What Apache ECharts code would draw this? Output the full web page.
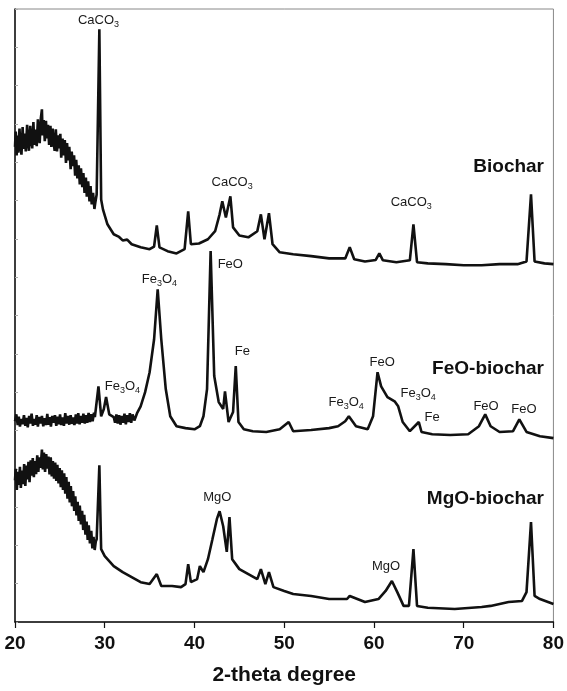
<!DOCTYPE html>
<html>
<head>
<meta charset="utf-8">
<script src="https://cdn.jsdelivr.net/npm/echarts@6/dist/echarts.min.js"></script>
<style>
  html, body { margin: 0; padding: 0; background: #fff; }
  #chart { width: 567px; height: 691px; }
</style>
</head>
<body>
<div id="chart"></div>
<script>
// 2-theta (deg) vs stacked intensity (a.u.)
// the noisy humps are traced as the top/bottom of the band
var biochar = [
  [20.0,12.40],[20.08,12.80],[20.18,12.18],[20.3,12.70],[20.36,12.25],[20.5,12.88],[20.6,12.42],
  [20.72,12.20],[20.85,12.92],[20.95,12.35],[21.1,12.75],[21.2,12.28],[21.35,12.98],[21.45,12.52],
  [21.55,12.30],[21.7,12.95],[21.8,12.60],[21.92,12.36],[22.05,13.05],[22.15,12.45],[22.3,12.85],
  [22.42,12.42],[22.55,13.12],[22.65,12.70],[22.75,12.50],[22.88,13.15],[23.0,13.38],[23.08,12.70],
  [23.2,13.10],[23.32,12.55],[23.45,13.08],[23.55,12.62],[23.68,12.98],[23.8,12.45],[23.95,12.95],
  [24.05,12.40],[24.2,12.88],[24.3,12.52],[24.42,12.30],[24.55,12.86],[24.68,12.28],[24.8,12.70],
  [24.9,12.36],[25.05,12.74],[25.15,12.12],[25.3,12.62],[25.42,12.18],[25.55,12.58],[25.68,11.98],
  [25.8,12.50],[25.92,12.05],[26.05,12.40],[26.2,11.82],[26.32,12.28],[26.45,11.90],[26.58,12.18],
  [26.7,11.65],[26.82,12.06],[26.95,11.58],[27.1,11.92],[27.22,11.42],[27.35,11.84],[27.5,11.35],
  [27.62,11.72],[27.75,11.20],[27.9,11.60],[28.0,11.10],[28.15,11.50],[28.3,10.98],[28.42,11.38],
  [28.55,10.90],[28.7,11.20],[28.85,10.78],[28.95,10.95],[29.1,11.16],[29.4,15.47],[29.6,11.03],
  [29.8,10.77],[30.3,10.38],[31.0,10.12],[31.6,10.05],[32.0,9.96],[32.5,9.98],[33.0,9.86],
  [34.0,9.78],[35.0,9.73],[35.5,9.80],[35.8,10.35],[36.1,9.78],[37.0,9.68],[38.0,9.62],
  [38.9,9.73],[39.3,10.72],[39.6,9.86],[40.5,9.88],[41.5,9.99],[42.3,10.20],[42.8,10.64],
  [43.1,10.98],[43.5,10.56],[44.0,11.11],[44.3,10.30],[45.0,10.09],[46.0,10.04],[47.0,10.20],
  [47.4,10.64],[47.8,9.99],[48.3,10.67],[48.7,9.86],[49.5,9.65],[51.0,9.60],[53.0,9.55],
  [55.0,9.49],[56.8,9.49],[57.3,9.78],[57.8,9.47],[59.0,9.41],[60.2,9.45],[60.6,9.62],
  [61.0,9.44],[62.5,9.39],[64.0,9.44],[64.4,10.38],[64.8,9.39],[66.0,9.36],[68.0,9.34],
  [70.0,9.31],[72.0,9.31],[74.0,9.34],[76.0,9.34],[77.0,9.41],[77.5,11.16],[77.9,9.41],
  [79.0,9.36],[80.0,9.34]
];
var feoBiochar = [
  [20.0,5.24],[20.15,5.42],[20.3,5.14],[20.42,5.36],[20.55,5.10],[20.7,5.30],[20.85,5.16],
  [21.0,5.40],[21.15,5.12],[21.3,5.33],[21.42,5.08],[21.58,5.38],[21.7,5.18],[21.85,5.44],
  [22.0,5.12],[22.12,5.30],[22.28,5.15],[22.42,5.40],[22.55,5.10],[22.7,5.35],[22.85,5.18],
  [23.0,5.38],[23.15,5.11],[23.3,5.32],[23.45,5.14],[23.6,5.43],[23.72,5.15],[23.88,5.35],
  [24.0,5.10],[24.15,5.38],[24.3,5.20],[24.45,5.40],[24.6,5.12],[24.75,5.36],[24.88,5.16],
  [25.02,5.42],[25.15,5.14],[25.3,5.34],[25.45,5.12],[25.6,5.45],[25.75,5.18],[25.9,5.38],
  [26.05,5.15],[26.2,5.40],[26.35,5.17],[26.5,5.34],[26.62,5.14],[26.78,5.42],[26.92,5.18],
  [27.05,5.45],[27.2,5.16],[27.35,5.38],[27.5,5.20],[27.62,5.44],[27.78,5.18],[27.92,5.40],
  [28.05,5.20],[28.2,5.46],[28.35,5.22],[28.5,5.42],[28.65,5.24],[28.8,5.46],[28.9,5.35],
  [29.3,6.15],[29.6,5.37],[29.9,5.56],[30.15,5.87],[30.5,5.42],[31.0,5.35],[31.15,5.20],
  [31.3,5.42],[31.45,5.18],[31.6,5.40],[31.75,5.15],[31.9,5.38],[32.05,5.20],[32.2,5.44],
  [32.35,5.16],[32.5,5.40],[32.65,5.22],[32.8,5.45],[32.95,5.20],[33.1,5.42],[33.3,5.26],
  [33.6,5.45],[34.0,5.63],[34.5,6.00],[35.0,6.52],[35.5,7.38],[35.9,8.68],[36.3,7.38],
  [36.8,6.08],[37.3,5.37],[38.0,5.11],[39.0,5.06],[40.0,5.03],[40.6,5.11],[41.0,5.37],
  [41.4,6.08],[41.8,9.68],[42.2,6.42],[42.7,5.74],[43.2,5.56],[43.4,6.02],[43.8,5.22],
  [44.3,5.48],[44.6,6.68],[44.9,5.22],[45.5,5.03],[46.5,4.98],[48.0,4.96],[49.5,5.03],
  [50.5,5.22],[51.0,4.98],[53.0,5.01],[55.0,5.06],[56.0,5.11],[56.8,5.24],[57.2,5.37],
  [58.0,5.11],[59.3,5.03],[59.9,5.37],[60.4,6.52],[60.8,6.15],[61.5,5.87],[62.3,5.76],
  [62.7,5.63],[63.2,5.22],[64.0,4.98],[65.0,5.22],[65.3,4.96],[66.5,4.90],[68.5,4.88],
  [70.5,4.90],[71.7,5.11],[72.4,5.42],[73.0,5.11],[74.0,4.96],[75.5,4.98],[76.2,5.29],
  [77.0,4.96],[78.5,4.85],[80.0,4.80]
];
var mgoBiochar = [
  [20.0,3.70],[20.08,4.00],[20.2,3.45],[20.32,3.92],[20.42,3.58],[20.55,4.05],[20.65,3.50],
  [20.78,3.95],[20.9,3.60],[21.02,4.12],[21.15,3.55],[21.28,4.08],[21.38,3.72],[21.5,4.18],
  [21.62,3.65],[21.75,4.22],[21.85,3.82],[21.98,4.28],[22.1,3.78],[22.22,4.20],[22.35,3.86],
  [22.48,4.35],[22.6,3.92],[22.72,4.30],[22.85,4.02],[23.0,4.50],[23.1,3.98],[23.22,4.42],
  [23.35,3.92],[23.48,4.38],[23.6,4.00],[23.72,4.32],[23.85,3.85],[23.98,4.30],[24.1,3.80],
  [24.22,4.20],[24.35,3.74],[24.48,4.16],[24.6,3.68],[24.72,4.10],[24.85,3.62],[24.98,4.02],
  [25.1,3.52],[25.22,3.96],[25.35,3.45],[25.48,3.88],[25.6,3.35],[25.72,3.78],[25.85,3.22],
  [25.98,3.66],[26.1,3.12],[26.22,3.55],[26.35,3.02],[26.48,3.42],[26.6,2.90],[26.72,3.28],
  [26.85,2.78],[26.98,3.14],[27.1,2.64],[27.22,3.04],[27.35,2.55],[27.48,2.90],[27.6,2.40],
  [27.72,2.80],[27.85,2.28],[27.98,2.62],[28.1,2.14],[28.22,2.52],[28.35,2.05],[28.5,2.38],
  [28.62,1.92],[28.75,2.22],[28.88,1.88],[29.0,2.10],[29.1,2.16],[29.4,4.09],[29.6,1.90],
  [30.0,1.72],[31.0,1.46],[32.0,1.30],[33.0,1.17],[34.0,1.04],[35.0,0.99],[35.8,1.25],
  [36.3,0.94],[37.5,0.94],[38.5,0.91],[39.0,0.99],[39.3,1.51],[39.6,1.04],[40.3,1.12],
  [40.6,1.46],[41.0,1.30],[41.5,1.64],[42.0,2.16],[42.5,2.69],[42.8,2.89],[43.2,2.50],
  [43.6,1.83],[43.9,2.74],[44.2,1.64],[45.0,1.38],[46.0,1.25],[47.0,1.12],[47.4,1.38],
  [47.9,0.99],[48.3,1.30],[48.8,0.91],[50.0,0.81],[51.0,0.73],[53.0,0.68],[55.0,0.60],
  [57.0,0.60],[57.3,0.68],[59.0,0.52],[60.5,0.60],[61.3,0.81],[62.0,1.07],[62.6,0.78],
  [63.3,0.42],[63.9,0.42],[64.4,1.90],[64.8,0.42],[66.0,0.37],[69.0,0.34],[72.0,0.39],
  [73.0,0.42],[75.0,0.52],[76.5,0.55],[77.0,0.78],[77.5,2.61],[77.9,0.68],[78.5,0.60],
  [80.0,0.47]
];

// phase labels: [2-theta, height, text]
var peakLabels = [
  [29.3, 15.70, '{n|CaCO}{s|3}'],
  [44.2, 11.48, '{n|CaCO}{s|3}'],
  [64.15, 10.95, '{n|CaCO}{s|3}'],
  [36.09, 8.95, '{n|Fe}{s|3}{n|O}{s|4}'],
  [43.99, 9.34, '{n|FeO}'],
  [45.33, 7.07, '{n|Fe}'],
  [31.97, 6.15, '{n|Fe}{s|3}{n|O}{s|4}'],
  [56.90, 5.74, '{n|Fe}{s|3}{n|O}{s|4}'],
  [60.91, 6.78, '{n|FeO}'],
  [64.92, 5.97, '{n|Fe}{s|3}{n|O}{s|4}'],
  [66.48, 5.35, '{n|Fe}'],
  [72.49, 5.63, '{n|FeO}'],
  [76.72, 5.56, '{n|FeO}'],
  [42.54, 3.26, '{n|MgO}'],
  [61.35, 1.46, '{n|MgO}']
];
var sampleLabels = [
  [78.95, 11.87, 'Biochar'],
  [78.95, 6.60, 'FeO-biochar'],
  [78.95, 3.21, 'MgO-biochar']
];

var font = 'Liberation Sans, Arial, Helvetica, sans-serif';
var chart = echarts.init(document.getElementById('chart'));

function trace(name, data) {
  return {
    name: name,
    type: 'line',
    data: data,
    symbol: 'none',
    lineStyle: { color: '#111', width: 2.6 },
    z: 2,
    animation: false
  };
}

chart.setOption({
  animation: false,
  grid: {
    left: 15, right: 12, top: 9, bottom: 68,
    show: true, borderColor: '#888', borderWidth: 1
  },
  xAxis: {
    type: 'value', min: 20, max: 80, interval: 10,
    name: '2-theta degree', nameLocation: 'middle', nameGap: 43,
    nameTextStyle: { fontFamily: font, fontWeight: 'bold', fontSize: 21, color: '#111' },
    axisLine: { lineStyle: { color: '#111', width: 1.5 } },
    axisTick: { inside: false, length: 6, lineStyle: { color: '#111', width: 1.2 } },
    axisLabel: { fontFamily: font, fontWeight: 'bold', fontSize: 19, color: '#111', margin: 12 },
    splitLine: { show: false }
  },
  yAxis: {
    type: 'value', min: 0, max: 16, interval: 1,
    axisLine: { show: true, lineStyle: { color: '#111', width: 1.5 } },
    axisTick: { show: true, inside: true, length: 3, lineStyle: { color: '#aaa' } },
    axisLabel: { show: false },
    splitLine: { show: false }
  },
  series: [
    trace('Biochar', biochar),
    trace('FeO-biochar', feoBiochar),
    trace('MgO-biochar', mgoBiochar),
    {
      type: 'scatter', symbolSize: 0, z: 5, animation: false, silent: true,
      itemStyle: { color: '#111', opacity: 1 },
      data: peakLabels.map(function (p) { return { value: [p[0], p[1]], txt: p[2] }; }),
      label: {
        show: true, position: 'inside', textBorderWidth: 0,
        formatter: function (p) { return p.data.txt; },
        rich: {
          n: { fontFamily: font, fontSize: 13, lineHeight: 13, color: '#1a1a1a', verticalAlign: 'top', textBorderWidth: 0 },
          s: { fontFamily: font, fontSize: 9, lineHeight: 9, color: '#1a1a1a', verticalAlign: 'top', padding: [6, 0, 0, 0], textBorderWidth: 0 }
        }
      }
    },
    {
      type: 'scatter', symbolSize: 0, z: 5, animation: false, silent: true,
      itemStyle: { color: '#111', opacity: 1 },
      data: sampleLabels.map(function (p) { return { value: [p[0], p[1]], txt: p[2] }; }),
      label: {
        show: true, position: 'inside', align: 'right', textBorderWidth: 0,
        formatter: function (p) { return p.data.txt; },
        fontFamily: font, fontWeight: 'bold', fontSize: 19, color: '#111'
      }
    }
  ]
});
</script>
</body>
</html>
